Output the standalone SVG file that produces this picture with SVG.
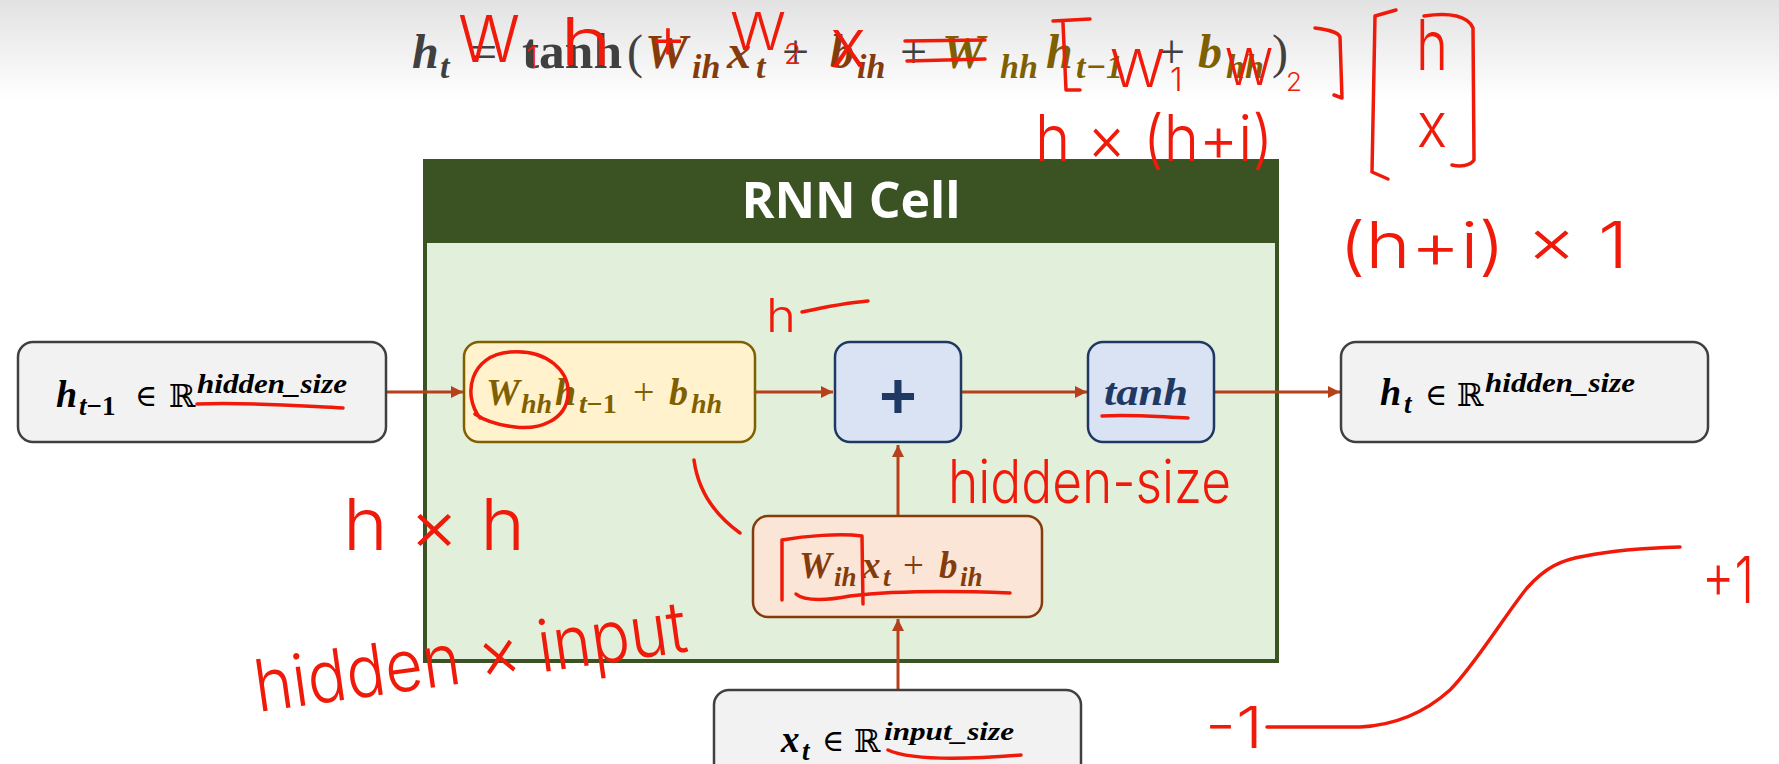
<svg xmlns="http://www.w3.org/2000/svg" width="1779" height="764" viewBox="0 0 1779 764">
<defs>
<linearGradient id="band" x1="0" y1="0" x2="0" y2="1">
<stop offset="0" stop-color="#e2e2e2"/>
<stop offset="1" stop-color="#ffffff"/>
</linearGradient>
<marker id="arr" viewBox="0 0 10 10" refX="10" refY="5" markerWidth="4" markerHeight="4" orient="auto" markerUnits="strokeWidth">
<path d="M0,0 L10,5 L0,10 Z" fill="#b5401a"/>
</marker>
<style>
.m{font-family:"Liberation Serif","DejaVu Serif",serif;font-weight:bold;font-style:italic}
.u{font-family:"Liberation Serif","DejaVu Serif",serif;font-weight:normal;font-style:normal}
.ub{font-family:"Liberation Serif","DejaVu Serif",serif;font-weight:bold;font-style:normal}
.sym{font-family:"DejaVu Serif","DejaVu Sans",serif;font-weight:normal;font-style:normal}
.conn{stroke:#b5401a;stroke-width:3;fill:none;marker-end:url(#arr)}
.io{fill:#f2f2f2;stroke:#404040;stroke-width:2.5}
.op{fill:#dae3f3;stroke:#1f3864;stroke-width:2.5}
.hw{fill:none;stroke:#f01a0a;stroke-width:3.5;stroke-linecap:round;stroke-linejoin:round}
.hwt{font-family:"Inter","Roboto","Liberation Sans",sans-serif;font-weight:300;fill:#f01a0a}
</style>
</defs>
<rect x="0" y="0" width="1779" height="764" fill="#ffffff"/>
<rect x="0" y="0" width="1779" height="100" fill="url(#band)"/>

<g id="formula">
<text class="m" font-size="48" fill="#404040">
<tspan x="412" y="68">h</tspan><tspan x="440" y="78" font-size="34">t</tspan>
</text>
<text class="u" font-size="48" fill="#404040" x="470" y="68">=</text>
<text class="ub" font-size="50" fill="#404040" x="522" y="68" textLength="100" lengthAdjust="spacingAndGlyphs">tanh</text>
<text class="u" font-size="48" fill="#404040" x="627" y="68">(</text>
<text class="m" font-size="48" fill="#843c0c">
<tspan x="645" y="68">W</tspan><tspan x="692" y="78" font-size="34">ih</tspan><tspan x="727" y="68">x</tspan><tspan x="756" y="78" font-size="34">t</tspan>
</text>
<text class="u" font-size="48" fill="#404040" x="782" y="68">+</text>
<text class="m" font-size="48" fill="#843c0c">
<tspan x="830" y="68">b</tspan><tspan x="857" y="78" font-size="34">ih</tspan>
</text>
<text class="u" font-size="48" fill="#404040" x="900" y="68">+</text>
<text class="m" font-size="48" fill="#7f6000">
<tspan x="942" y="68">W</tspan><tspan x="1000" y="78" font-size="34">hh</tspan><tspan x="1046" y="68">h</tspan><tspan x="1076" y="78" font-size="34">t−1</tspan>
</text>
<text class="u" font-size="48" fill="#404040" x="1158" y="68">+</text>
<text class="m" font-size="48" fill="#7f6000">
<tspan x="1198" y="68">b</tspan><tspan x="1226" y="78" font-size="34">hh</tspan>
</text>
<text class="u" font-size="48" fill="#404040" x="1272" y="68">)</text>
</g>

<g id="rnn-cell">
<rect x="425" y="161" width="852" height="500" fill="#e2efda" stroke="#3b5323" stroke-width="4"/>
<rect x="423" y="159" width="856" height="84" fill="#3b5323"/>
<text x="851" y="218" text-anchor="middle" font-family="'Open Sans','Liberation Sans',sans-serif" font-weight="bold" font-size="50" fill="#ffffff">RNN Cell</text>
</g>

<g id="connectors">
<line class="conn" x1="387" y1="392" x2="463" y2="392"/>
<line class="conn" x1="756" y1="392" x2="833" y2="392"/>
<line class="conn" x1="962" y1="392" x2="1087" y2="392"/>
<line class="conn" x1="1215" y1="392" x2="1340" y2="392"/>
<line class="conn" x1="898" y1="690" x2="898" y2="619"/>
<line class="conn" x1="898" y1="516" x2="898" y2="445"/>
</g>

<g id="h-prev">
<rect class="io" x="18" y="342" width="368" height="100" rx="15"/>
<text class="m" font-size="38" fill="#000000"><tspan x="56" y="407">h</tspan><tspan x="79" y="415" font-size="27">t</tspan><tspan font-size="27" font-style="normal">−1</tspan></text>
<text class="sym" font-size="30" fill="#000000" x="135" y="406">∈</text>
<text class="sym" font-size="32" fill="#000000" x="169" y="407">ℝ</text>
<text class="m" font-size="27" fill="#000000" x="197" y="393" textLength="150" lengthAdjust="spacingAndGlyphs">hidden_size</text>
</g>

<g id="whh">
<rect x="464" y="342" width="291" height="100" rx="15" fill="#fff2cc" stroke="#7f6000" stroke-width="2.5"/>
<text class="m" font-size="38" fill="#7f6000"><tspan x="486" y="405">W</tspan><tspan x="521" y="413" font-size="28">hh</tspan><tspan x="555" y="405">h</tspan><tspan x="579" y="413" font-size="28">t</tspan><tspan font-size="28" font-style="normal">−1</tspan></text>
<text class="u" font-size="38" fill="#7f6000" x="633" y="405">+</text>
<text class="m" font-size="38" fill="#7f6000"><tspan x="669" y="405">b</tspan><tspan x="691" y="413" font-size="28">hh</tspan></text>
</g>

<g id="plus">
<rect class="op" x="835" y="342" width="126" height="100" rx="15"/>
<text x="898" y="418" text-anchor="middle" font-family="'Liberation Sans',Arial,sans-serif" font-weight="bold" font-size="64" fill="#1f3864">+</text>
</g>

<g id="tanh">
<rect class="op" x="1088" y="342" width="126" height="100" rx="15"/>
<text class="m" font-size="38" fill="#1f3864" x="1104" y="405" textLength="84" lengthAdjust="spacingAndGlyphs">tanh</text>
</g>

<g id="h-t">
<rect class="io" x="1341" y="342" width="367" height="100" rx="15"/>
<text class="m" font-size="38" fill="#000000"><tspan x="1380" y="405">h</tspan><tspan x="1404" y="413" font-size="27">t</tspan></text>
<text class="sym" font-size="30" fill="#000000" x="1425" y="405">∈</text>
<text class="sym" font-size="32" fill="#000000" x="1457" y="406">ℝ</text>
<text class="m" font-size="28" fill="#000000" x="1485" y="392" textLength="150" lengthAdjust="spacingAndGlyphs">hidden_size</text>
</g>

<g id="wih">
<rect x="753" y="516" width="289" height="101" rx="15" fill="#fbe5d6" stroke="#843c0c" stroke-width="2.5"/>
<text class="m" font-size="37" fill="#843c0c"><tspan x="799" y="578">W</tspan><tspan x="834" y="586" font-size="27">ih</tspan><tspan x="862" y="578">x</tspan><tspan x="883" y="586" font-size="27">t</tspan></text>
<text class="u" font-size="37" fill="#843c0c" x="903" y="578">+</text>
<text class="m" font-size="37" fill="#843c0c"><tspan x="939" y="578">b</tspan><tspan x="960" y="586" font-size="27">ih</tspan></text>
</g>

<g id="x-t">
<rect class="io" x="714" y="690" width="367" height="100" rx="15"/>
<text class="m" font-size="37" fill="#000000"><tspan x="781" y="752">x</tspan><tspan x="802" y="760" font-size="27">t</tspan></text>
<text class="sym" font-size="30" fill="#000000" x="822" y="751">∈</text>
<text class="sym" font-size="32" fill="#000000" x="854" y="752">ℝ</text>
<text class="m" font-size="26" fill="#000000" x="884" y="740" textLength="130" lengthAdjust="spacingAndGlyphs">input_size</text>
</g>

<g id="annotations">
<text class="hwt" font-size="64" x="458" y="62" textLength="62" lengthAdjust="spacingAndGlyphs">W</text>
<text class="hwt" font-size="30" x="526" y="68">1</text>
<text class="hwt" font-size="66" x="560" y="65" textLength="52" lengthAdjust="spacingAndGlyphs">h</text>
<text class="hwt" font-size="58" x="668" y="58" text-anchor="middle">+</text>
<text class="hwt" font-size="52" x="730" y="50" textLength="56" lengthAdjust="spacingAndGlyphs">W</text>
<text class="hwt" font-size="28" x="784" y="64">2</text>
<text class="hwt" font-size="68" x="830" y="67" textLength="36" lengthAdjust="spacingAndGlyphs">x</text>
<path class="hw" d="M905,41 L985,40 M907,61 L985,59"/>
<path class="hw" d="M1053,21 L1090,19 M1063,23 L1066,90 L1080,90"/>
<text class="hwt" font-size="52" x="1110" y="87" textLength="55" lengthAdjust="spacingAndGlyphs">W</text>
<text class="hwt" font-size="32" x="1170" y="91">1</text>
<text class="hwt" font-size="50" x="1225" y="85" textLength="48" lengthAdjust="spacingAndGlyphs">W</text>
<text class="hwt" font-size="26" x="1286" y="91">2</text>
<path class="hw" d="M1315,28 C1330,30 1338,32 1340,37 L1342,98 L1334,95"/>
<text class="hwt" font-size="64" x="1035" y="161" textLength="238" lengthAdjust="spacingAndGlyphs">h × (h+i)</text>
<path class="hw" d="M1396,10 L1375,16 L1372,172 L1388,179"/>
<path class="hw" d="M1424,16 C1450,12 1468,16 1473,28 L1474,160 C1470,166 1460,167 1452,165"/>
<text class="hwt" font-size="70" x="1416" y="70" textLength="32" lengthAdjust="spacingAndGlyphs">h</text>
<text class="hwt" font-size="62" x="1417" y="147" textLength="30" lengthAdjust="spacingAndGlyphs">x</text>
<text class="hwt" font-size="64" x="1339" y="268" textLength="289" lengthAdjust="spacingAndGlyphs">(h+i) × 1</text>
<text class="hwt" font-size="46" x="766" y="332" textLength="30" lengthAdjust="spacingAndGlyphs">h</text>
<path class="hw" d="M802,312 C825,307 845,303 868,301"/>
<text class="hwt" font-size="60" x="948" y="503" textLength="283" lengthAdjust="spacingAndGlyphs">hidden-size</text>
<text class="hwt" font-size="72" x="343" y="550" textLength="182" lengthAdjust="spacingAndGlyphs">h × h</text>
<text class="hwt" font-size="72" x="258" y="712" textLength="436" lengthAdjust="spacingAndGlyphs" transform="rotate(-8 258 712)">hidden × input</text>
<path class="hw" d="M197,404 C250,402 300,406 343,408"/>
<path class="hw" d="M480,418 C462,395 470,355 510,352 C548,349 570,372 568,395 C566,420 540,430 515,427 C497,425 485,421 475,414"/>
<path class="hw" d="M1102,416 C1130,414 1160,417 1188,418"/>
<path class="hw" d="M782,600 L782,540 C805,536 840,533 862,536 L863,604"/>
<path class="hw" d="M796,594 C805,602 830,600 850,596 C900,590 960,591 1010,593"/>
<path class="hw" d="M888,750 C910,760 960,760 1021,755"/>
<path class="hw" d="M694,460 C698,490 715,515 740,533"/>
<path class="hw" d="M1267,727 L1360,727 C1400,725 1430,708 1450,690 C1475,665 1505,615 1527,588 C1545,568 1560,560 1585,556 C1615,550 1645,548 1680,547"/>
<text class="hwt" font-size="58" x="1205" y="748" textLength="58" lengthAdjust="spacingAndGlyphs">-1</text>
<text class="hwt" font-size="64" x="1702" y="603" textLength="52" lengthAdjust="spacingAndGlyphs">+1</text>
</g>
</svg>
